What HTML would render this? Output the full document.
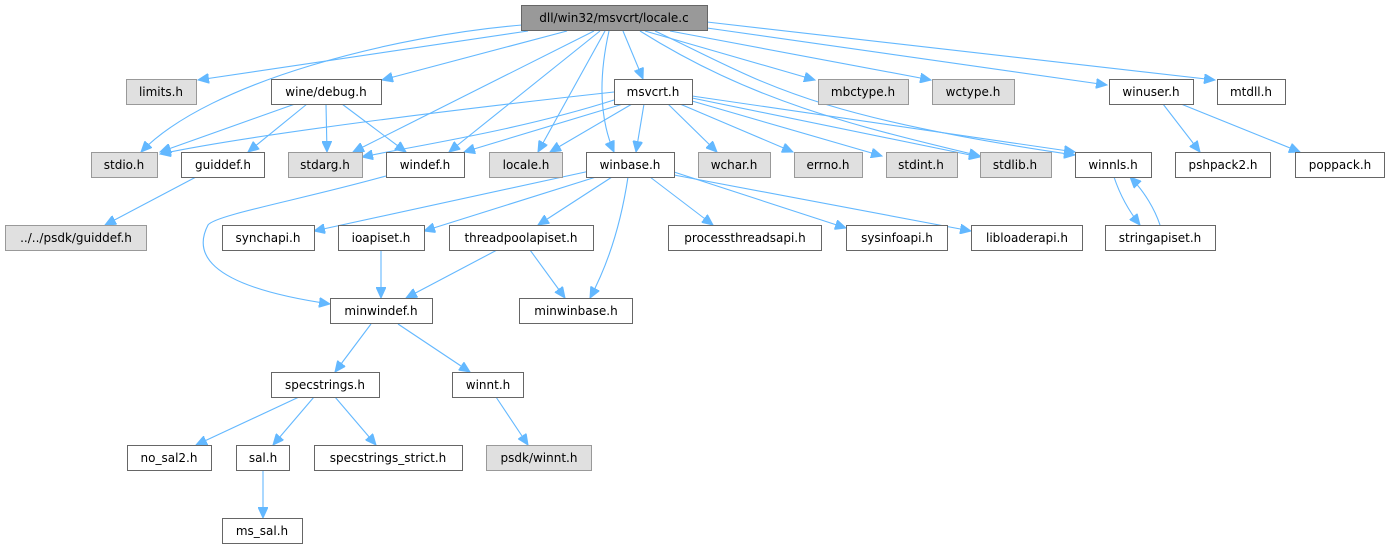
<!DOCTYPE html>
<html><head><meta charset="utf-8"><style>
html,body{margin:0;padding:0;background:#fff}
svg{display:block}
text{font-family:"DejaVu Sans","Liberation Sans",sans-serif;font-size:12px;fill:#000}
.e{fill:none;stroke:#63b8ff;stroke-width:1.1}
.w{fill:#fff;stroke:#666;stroke-width:1}
.g{fill:#e0e0e0;stroke:#999;stroke-width:1}
.r{fill:#999;stroke:#666;stroke-width:1}
</style></head><body>
<svg width="1393" height="549" viewBox="0 0 1393 549" xmlns="http://www.w3.org/2000/svg">
<defs><marker id="a" markerUnits="userSpaceOnUse" markerWidth="12" markerHeight="10" refX="11" refY="5" orient="auto"><path d="M0,0 L11,5 L0,10 z" fill="#63b8ff" stroke="#63b8ff"/></marker></defs>
<g class="e" marker-end="url(#a)">
<path d="M528,31 L198,80"/>
<path d="M522,25 C400,35 210,80 141,152"/>
<path d="M567,31 L382,80"/>
<path d="M594,31 L353,152"/>
<path d="M600,31 L449,152"/>
<path d="M605,31 L538,152"/>
<path d="M609,31 C598,80 600,120 614,152"/>
<path d="M623,31 L643,79"/>
<path d="M645,31 L815,80"/>
<path d="M670,31 L931,80"/>
<path d="M707,28 L1107,85"/>
<path d="M707,22 L1215,80"/>
<path d="M640,31 C750,100 850,125 980,156"/>
<path d="M655,31 C760,80 800,115 1075,155"/>
<path d="M614,92 C450,110 250,135 160,154"/>
<path d="M614,100 C520,130 420,145 362,157"/>
<path d="M623,104 L464,152"/>
<path d="M632,104 L550,152"/>
<path d="M644,104 L636,152"/>
<path d="M668,104 L717,152"/>
<path d="M680,104 L793,152"/>
<path d="M692,101 L882,156"/>
<path d="M692,98 L980,157"/>
<path d="M692,96 L1075,152"/>
<path d="M295,104 L160,152"/>
<path d="M307,104 L248,152"/>
<path d="M326,104 L327,152"/>
<path d="M342,104 L406,152"/>
<path d="M196,177 L105,225"/>
<path d="M386,176 C300,200 215,215 208,225 C195,250 200,285 330,304"/>
<path d="M590,171 L314,231"/>
<path d="M596,177 L424,231"/>
<path d="M612,177 L538,225"/>
<path d="M628,177 C620,230 605,270 590,298"/>
<path d="M650,177 L713,225"/>
<path d="M674,172 L846,228"/>
<path d="M674,175 L971,231"/>
<path d="M381,250 L381,298"/>
<path d="M497,250 L406,298"/>
<path d="M530,250 L565,298"/>
<path d="M371,324 L335,372"/>
<path d="M398,324 L470,372"/>
<path d="M299,397 L196,445"/>
<path d="M314,397 L273,445"/>
<path d="M335,397 L376,445"/>
<path d="M496,397 L528,445"/>
<path d="M263,471 L263,518"/>
<path d="M1163,104 L1200,152"/>
<path d="M1181,104 L1300,152"/>
<path d="M1114,177 C1120,195 1128,210 1140,225"/>
<path d="M1160,225 C1155,210 1145,192 1130,177"/>
</g>
<g>
<rect class="r" x="521.5" y="5.5" width="186" height="25"/><text x="614" y="22" text-anchor="middle">dll/win32/msvcrt/locale.c</text>
<rect class="g" x="126.5" y="79.5" width="70" height="25"/><text x="161" y="96" text-anchor="middle">limits.h</text>
<rect class="w" x="271.5" y="79.5" width="110" height="25"/><text x="326" y="96" text-anchor="middle">wine/debug.h</text>
<rect class="w" x="614.5" y="79.5" width="78" height="25"/><text x="653" y="96" text-anchor="middle">msvcrt.h</text>
<rect class="g" x="818.5" y="79.5" width="90" height="25"/><text x="863" y="96" text-anchor="middle">mbctype.h</text>
<rect class="g" x="932.5" y="79.5" width="82" height="25"/><text x="973" y="96" text-anchor="middle">wctype.h</text>
<rect class="w" x="1109.5" y="79.5" width="84" height="25"/><text x="1151" y="96" text-anchor="middle">winuser.h</text>
<rect class="w" x="1217.5" y="79.5" width="68" height="25"/><text x="1251" y="96" text-anchor="middle">mtdll.h</text>
<rect class="g" x="91.5" y="152.5" width="66" height="25"/><text x="124" y="169" text-anchor="middle">stdio.h</text>
<rect class="w" x="181.5" y="152.5" width="83" height="25"/><text x="223" y="169" text-anchor="middle">guiddef.h</text>
<rect class="g" x="288.5" y="152.5" width="74" height="25"/><text x="325" y="169" text-anchor="middle">stdarg.h</text>
<rect class="w" x="386.5" y="152.5" width="78" height="25"/><text x="425" y="169" text-anchor="middle">windef.h</text>
<rect class="g" x="489.5" y="152.5" width="73" height="25"/><text x="526" y="169" text-anchor="middle">locale.h</text>
<rect class="w" x="586.5" y="152.5" width="88" height="25"/><text x="630" y="169" text-anchor="middle">winbase.h</text>
<rect class="g" x="698.5" y="152.5" width="72" height="25"/><text x="734" y="169" text-anchor="middle">wchar.h</text>
<rect class="g" x="794.5" y="152.5" width="68" height="25"/><text x="828" y="169" text-anchor="middle">errno.h</text>
<rect class="g" x="886.5" y="152.5" width="71" height="25"/><text x="921" y="169" text-anchor="middle">stdint.h</text>
<rect class="g" x="980.5" y="152.5" width="71" height="25"/><text x="1015" y="169" text-anchor="middle">stdlib.h</text>
<rect class="w" x="1075.5" y="152.5" width="76" height="25"/><text x="1113" y="169" text-anchor="middle">winnls.h</text>
<rect class="w" x="1175.5" y="152.5" width="95" height="25"/><text x="1223" y="169" text-anchor="middle">pshpack2.h</text>
<rect class="w" x="1295.5" y="152.5" width="89" height="25"/><text x="1340" y="169" text-anchor="middle">poppack.h</text>
<rect class="g" x="5.5" y="225.5" width="141" height="25"/><text x="76" y="242" text-anchor="middle">../../psdk/guiddef.h</text>
<rect class="w" x="222.5" y="225.5" width="92" height="25"/><text x="268" y="242" text-anchor="middle">synchapi.h</text>
<rect class="w" x="338.5" y="225.5" width="86" height="25"/><text x="381" y="242" text-anchor="middle">ioapiset.h</text>
<rect class="w" x="449.5" y="225.5" width="144" height="25"/><text x="521" y="242" text-anchor="middle">threadpoolapiset.h</text>
<rect class="w" x="668.5" y="225.5" width="153" height="25"/><text x="745" y="242" text-anchor="middle">processthreadsapi.h</text>
<rect class="w" x="846.5" y="225.5" width="101" height="25"/><text x="897" y="242" text-anchor="middle">sysinfoapi.h</text>
<rect class="w" x="971.5" y="225.5" width="111" height="25"/><text x="1027" y="242" text-anchor="middle">libloaderapi.h</text>
<rect class="w" x="1105.5" y="225.5" width="110" height="25"/><text x="1160" y="242" text-anchor="middle">stringapiset.h</text>
<rect class="w" x="330.5" y="298.5" width="102" height="25"/><text x="381" y="315" text-anchor="middle">minwindef.h</text>
<rect class="w" x="519.5" y="298.5" width="113" height="25"/><text x="576" y="315" text-anchor="middle">minwinbase.h</text>
<rect class="w" x="271.5" y="372.5" width="108" height="25"/><text x="325" y="389" text-anchor="middle">specstrings.h</text>
<rect class="w" x="452.5" y="372.5" width="71" height="25"/><text x="488" y="389" text-anchor="middle">winnt.h</text>
<rect class="w" x="127.5" y="445.5" width="84" height="25"/><text x="169" y="462" text-anchor="middle">no_sal2.h</text>
<rect class="w" x="236.5" y="445.5" width="53" height="25"/><text x="263" y="462" text-anchor="middle">sal.h</text>
<rect class="w" x="314.5" y="445.5" width="148" height="25"/><text x="388" y="462" text-anchor="middle">specstrings_strict.h</text>
<rect class="g" x="486.5" y="445.5" width="105" height="25"/><text x="539" y="462" text-anchor="middle">psdk/winnt.h</text>
<rect class="w" x="222.5" y="518.5" width="80" height="25"/><text x="262" y="535" text-anchor="middle">ms_sal.h</text>
</g>
</svg>
</body></html>
